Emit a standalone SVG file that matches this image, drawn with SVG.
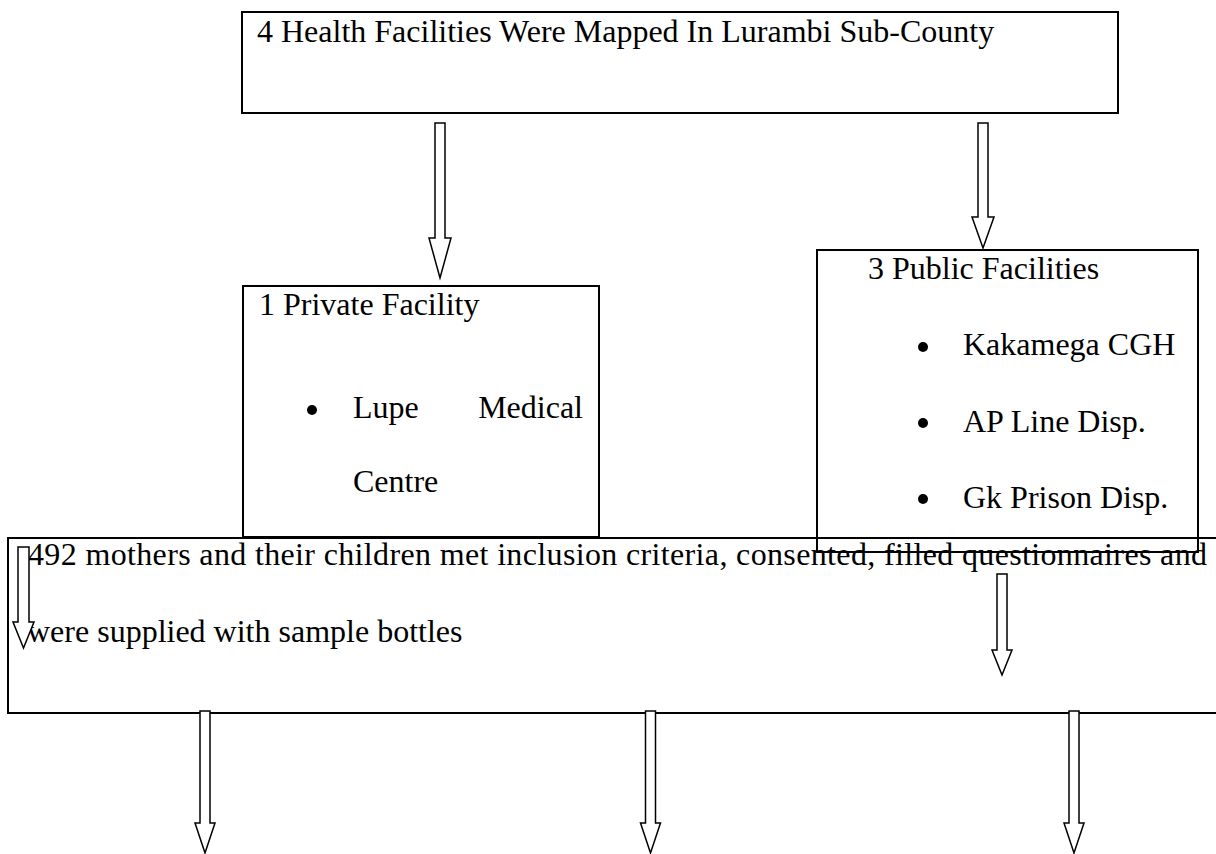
<svg xmlns="http://www.w3.org/2000/svg" width="1216" height="854" viewBox="0 0 1216 854">
<style>
.box{fill:none;stroke:#000;stroke-width:2}
.t{font-family:"Liberation Serif","Times New Roman",serif;font-size:32px;fill:#000}
.arr{fill:#fff;stroke:#000;stroke-width:1.5;stroke-linejoin:miter}
.dot{fill:#000}
</style>
<rect width="1216" height="854" fill="#fff"/>
<g id="node-top">
<rect class="box" x="242" y="12" width="876" height="101"/>
<text class="t" x="257" y="42">4 Health Facilities Were Mapped In Lurambi Sub-County</text>
</g>
<g id="node-private">
<rect class="box" x="243" y="286" width="356" height="251"/>
<text class="t" x="259" y="315">1 Private Facility</text>
<circle class="dot" cx="312" cy="410" r="5"/>
<text class="t" x="353" y="418">Lupe</text>
<text class="t" x="583" y="418" text-anchor="end">Medical</text>
<text class="t" x="353" y="492">Centre</text>
</g>
<g id="node-public">
<rect class="box" x="817" y="250" width="381" height="302"/>
<text class="t" x="868" y="279">3 Public Facilities</text>
<circle class="dot" cx="923" cy="347" r="5"/>
<text class="t" x="963" y="355">Kakamega CGH</text>
<circle class="dot" cx="923" cy="423" r="5"/>
<text class="t" x="963" y="432">AP Line Disp.</text>
<circle class="dot" cx="923" cy="499" r="5"/>
<text class="t" x="963" y="508">Gk Prison Disp.</text>
</g>
<g id="node-mothers">
<rect class="box" x="8" y="538" width="1220" height="175"/>
<text class="t" x="28" y="565" textLength="1179" lengthAdjust="spacing">492 mothers and their children met inclusion criteria, consented, filled questionnaires and</text>
<text class="t" x="27" y="642">were supplied with sample bottles</text>
</g>
<g id="connectors">
<polygon class="arr" points="435,123 445,123 445,238 451,238 440,278 429,238 435,238"/>
<polygon class="arr" points="978,123 988,123 988,217 994,217 983,248 972,217 978,217"/>
<polygon class="arr" points="18,547 29,547 29,622 34,622 23.5,648 13,622 18,622"/>
<polygon class="arr" points="997,574 1007,574 1007,650 1012,650 1002,675 992,650 997,650"/>
<polygon class="arr" points="200,711 210,711 210,823 215,823 205,853 195,823 200,823"/>
<polygon class="arr" points="645.5,711 655.5,711 655.5,823 660.5,823 650.5,853 640.5,823 645.5,823"/>
<polygon class="arr" points="1069,711 1079,711 1079,823 1084,823 1074,853 1064,823 1069,823"/>
</g>
</svg>
